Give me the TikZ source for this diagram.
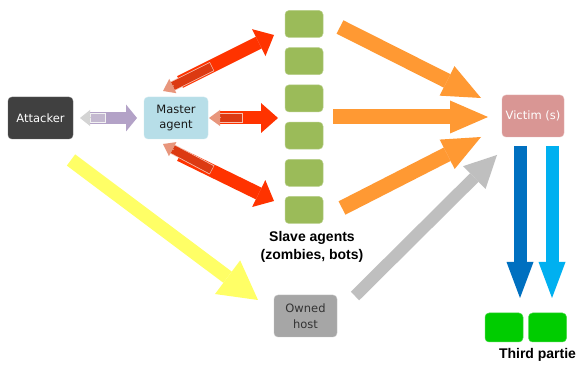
\documentclass[tikz,border=0pt]{standalone}
\usepackage{fontspec}
\setmainfont{DejaVu Sans}
\newfontfamily\labfont{Liberation Sans}
\usetikzlibrary{arrows.meta,calc}
\definecolor{attackerC}{HTML}{404040}
\definecolor{masterC}{HTML}{B7DEE8}
\definecolor{slaveC}{HTML}{9BBB59}
\definecolor{victimC}{HTML}{D99694}
\definecolor{ownedC}{HTML}{A6A6A6}
\definecolor{thirdC}{HTML}{00CC00}
\definecolor{redC}{HTML}{FF3300}
\definecolor{salmonC}{HTML}{E8967C}
\definecolor{retbodyC}{HTML}{DC3A12}
\definecolor{retedgeC}{HTML}{F6C0B0}
\definecolor{orangeC}{HTML}{FF9933}
\definecolor{purpleC}{HTML}{B3A2C7}
\definecolor{grayretC}{HTML}{D4D4D4}
\definecolor{grayretbodyC}{HTML}{C4B9D0}
\definecolor{yellowC}{HTML}{FFFF66}
\definecolor{grayC}{HTML}{BFBFBF}
\definecolor{dblueC}{HTML}{0070C0}
\definecolor{lblueC}{HTML}{00B0F0}
\tikzset{
  box/.style={rounded corners=4pt, inner sep=0pt, align=center,
    font=\fontsize{11.5}{15.5}\selectfont},
  slavebox/.style={box, fill=slaveC, draw=slaveC!70!white, line width=0.5pt,
    minimum width=38pt, minimum height=27pt},
  thirdbox/.style={box, fill=thirdC, draw=thirdC!70!white, line width=0.5pt,
    minimum width=38pt, minimum height=29pt},
  blkarrow/.style n args={4}{draw=#1, line width=#2,
    -{Triangle[length=#3, width=#4, line width=0pt]}},
  lbl/.style={font=\labfont\bfseries\fontsize{14}{18}\selectfont, align=center, inner sep=0pt}
}
\begin{document}
\begin{tikzpicture}[x=1pt,y=-1pt]
\useasboundingbox[fill=white] (0,0) rectangle (579,366);

% nodes
\node[box, fill=attackerC, draw=attackerC!80!white, text=white, minimum width=65pt, minimum height=42pt] (attacker) at (40.5,118) {Attacker};
\node[box, fill=masterC, draw=masterC!70!white, text=black!90, minimum width=64pt, minimum height=42pt] (master) at (176,118) {Master\\agent};
\node[box, fill=victimC, draw=victimC!70!white, text=white, minimum width=62pt, minimum height=42pt] (victim) at (533,116) {Victim (s)};
\node[box, fill=ownedC, draw=ownedC!70!white, text=black!80, minimum width=63pt, minimum height=42pt] (owned) at (305.5,316) {Owned\\host};
\foreach \i/\y in {1/24,2/61.2,3/98.4,4/135.6,5/172.8,6/210}
  \node[slavebox] (s\i) at (304,\y) {};
\node[thirdbox] (t1) at (504,327.5) {};
\node[thirdbox] (t2) at (547.5,327.5) {};
\node[lbl] (slavelbl) at (312,247) {Slave agents\\(zombies, bots)};
\node[lbl] (thirdlbl) at (537.5,355) {Third partie};

% coordinates for arrow ends
\coordinate (yT) at (71,160);   \coordinate (yH) at (258,300);
\coordinate (gT) at (355,296);  \coordinate (gH) at (497,155);
\coordinate (o1T) at (340,27);  \coordinate (o1H) at (481,98);
\coordinate (o2T) at (333,117); \coordinate (o2H) at (488,117);
\coordinate (o3T) at (342,208); \coordinate (o3H) at (481,137);
\coordinate (b1T) at (520,146); \coordinate (b1H) at (520,298);
\coordinate (b2T) at (552,146); \coordinate (b2H) at (552,298);
\coordinate (r1T) at (180,82);  \coordinate (r1H) at (274,35);
\coordinate (r2T) at (220,118); \coordinate (r2H) at (278,118);
\coordinate (r3T) at (180,155); \coordinate (r3H) at (274,201);
\coordinate (pT) at (90,118);   \coordinate (pH) at (137,118);
\coordinate (q1H) at (163,91);  \coordinate (q1T) at (212,66.5);
\coordinate (q2H) at (209,118); \coordinate (q2T) at (243,118);
\coordinate (q3H) at (163,144); \coordinate (q3T) at (212,170);
\coordinate (qaH) at (80,118);  \coordinate (qaT) at (106,118);

% big arrows
\draw[blkarrow={yellowC}{14pt}{38pt}{42pt}] (yT) -- (yH);
\draw[blkarrow={grayC}{12pt}{32pt}{32pt}] (gT) -- (gH);
\foreach \k in {1,2,3}
  \draw[blkarrow={orangeC}{15pt}{38pt}{33pt}] (o\k T) -- (o\k H);
\draw[blkarrow={dblueC}{13pt}{36pt}{27pt}] (b1T) -- (b1H);
\draw[blkarrow={lblueC}{13pt}{36pt}{27pt}] (b2T) -- (b2H);
\foreach \k in {1,2,3}
  \draw[blkarrow={redC}{13pt}{17pt}{30pt}] (r\k T) -- (r\k H);
\draw[blkarrow={purpleC}{12pt}{11pt}{27pt}] (pT) -- (pH);

% return arrows (master -> attacker, slaves -> master)
\foreach \k in {1,2,3}{
  \draw[retedgeC, line width=10pt] (q\k T) -- ($(q\k H)!10.5pt!(q\k T)$);
  \draw[retbodyC, line width=8.4pt] ($(q\k T)!0.6pt!(q\k H)$) -- ($(q\k H)!11pt!(q\k T)$);
  \draw[blkarrow={salmonC}{1pt}{11pt}{16pt}] ($(q\k H)!12pt!(q\k T)$) -- (q\k H);
}
\draw[white!90!gray, line width=10pt] (qaT) -- ($(qaH)!10pt!(qaT)$);
\draw[grayretbodyC, line width=8.4pt] ($(qaT)!0.6pt!(qaH)$) -- ($(qaH)!10.5pt!(qaT)$);
\draw[blkarrow={grayretC}{1pt}{10pt}{16pt}] ($(qaH)!11pt!(qaT)$) -- (qaH);
\end{tikzpicture}
\end{document}
